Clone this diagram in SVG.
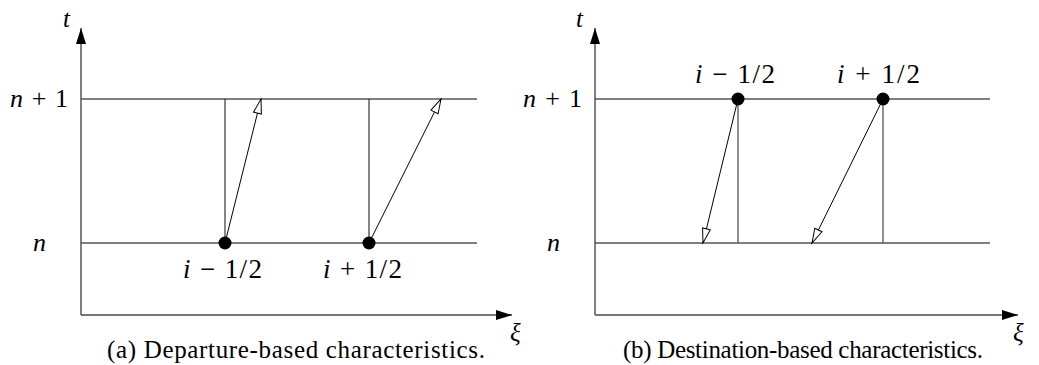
<svg xmlns="http://www.w3.org/2000/svg" width="1039" height="365" viewBox="0 0 1039 365" font-family="Liberation Serif, Times New Roman, serif">
<style>
.ax{stroke:#4a4a4a;stroke-width:1.4;fill:none}
.grid{stroke:#555;stroke-width:1.3;fill:none}
.vt{stroke:#222;stroke-width:1.1;fill:none}
.ch{stroke:#000;stroke-width:1;fill:none;marker-end:url(#open)}
</style>
<defs>
<marker id="solid" markerUnits="userSpaceOnUse" markerWidth="20" markerHeight="12" refX="16" refY="5" orient="auto" overflow="visible">
<path d="M0,0 L16,5 L0,10 Z" fill="#000"/>
</marker>
<marker id="open" markerUnits="userSpaceOnUse" markerWidth="20" markerHeight="12" refX="15" refY="4.5" orient="auto" overflow="visible">
<path d="M0.5,0.5 L15,4.5 L0.5,8.5 Z" fill="#fff" stroke="#000" stroke-width="1"/>
</marker>
</defs>

<g id="panel-a">
<g id="axes-a">
<line class="ax" x1="81" y1="315" x2="81" y2="28" marker-end="url(#solid)"/>
<line class="ax" x1="81" y1="315" x2="512" y2="315" marker-end="url(#solid)"/>
<text font-family="Liberation Serif, serif" font-size="25" font-style="italic" x="63" y="27">t</text>
<text font-family="Liberation Serif, serif" font-size="25" font-style="italic" x="510" y="341">ξ</text>
</g>
<g id="level-a-n1">
<line class="grid" x1="81" y1="99" x2="477" y2="99"/>
<text font-family="Liberation Serif, serif" font-size="26" x="10" y="107" textLength="58" lengthAdjust="spacing"><tspan font-style="italic">n</tspan> + 1</text>
</g>
<g id="level-a-n">
<line class="grid" x1="81" y1="243" x2="477" y2="243"/>
<text font-family="Liberation Serif, serif" font-size="26" font-style="italic" x="33" y="251">n</text>
</g>
<g id="connectors-a">
<line class="vt" x1="225" y1="243" x2="225" y2="99"/>
<line class="vt" x1="369" y1="243" x2="369" y2="99"/>
<line class="ch" x1="225" y1="243" x2="261" y2="99"/>
<line class="ch" x1="369" y1="243" x2="441" y2="99"/>
</g>
<g id="node-a-im">
<circle cx="225" cy="243" r="6.5" fill="#000"/>
<text font-family="Liberation Serif, serif" font-size="27" x="183" y="278" textLength="79" lengthAdjust="spacing"><tspan font-style="italic">i</tspan> − 1/2</text>
</g>
<g id="node-a-ip">
<circle cx="369" cy="243" r="6.5" fill="#000"/>
<text font-family="Liberation Serif, serif" font-size="27" x="323" y="278" textLength="79" lengthAdjust="spacing"><tspan font-style="italic">i</tspan> + 1/2</text>
</g>
<text font-family="Liberation Serif, serif" font-size="25" x="107" y="358" textLength="378" lengthAdjust="spacing">(a)  Departure-based characteristics.</text>
</g>

<g id="panel-b">
<g id="axes-b">
<line class="ax" x1="595" y1="315" x2="595" y2="28" marker-end="url(#solid)"/>
<line class="ax" x1="595" y1="315" x2="1018" y2="315" marker-end="url(#solid)"/>
<text font-family="Liberation Serif, serif" font-size="25" font-style="italic" x="576" y="27">t</text>
<text font-family="Liberation Serif, serif" font-size="25" font-style="italic" x="1013" y="341">ξ</text>
</g>
<g id="level-b-n1">
<line class="grid" x1="595" y1="99" x2="990" y2="99"/>
<text font-family="Liberation Serif, serif" font-size="26" x="523" y="107" textLength="59" lengthAdjust="spacing"><tspan font-style="italic">n</tspan> + 1</text>
</g>
<g id="level-b-n">
<line class="grid" x1="595" y1="243" x2="990" y2="243"/>
<text font-family="Liberation Serif, serif" font-size="26" font-style="italic" x="547" y="251">n</text>
</g>
<g id="connectors-b">
<line class="grid" x1="738" y1="99" x2="738" y2="243"/>
<line class="grid" x1="883" y1="99" x2="883" y2="243"/>
<line class="ch" x1="738" y1="99" x2="703" y2="243"/>
<line class="ch" x1="883" y1="99" x2="812" y2="243"/>
</g>
<g id="node-b-im">
<circle cx="738" cy="99" r="6.5" fill="#000"/>
<text font-family="Liberation Serif, serif" font-size="27" x="695" y="83" textLength="80" lengthAdjust="spacing"><tspan font-style="italic">i</tspan> − 1/2</text>
</g>
<g id="node-b-ip">
<circle cx="883" cy="99" r="6.5" fill="#000"/>
<text font-family="Liberation Serif, serif" font-size="27" x="837" y="83" textLength="83" lengthAdjust="spacing"><tspan font-style="italic">i</tspan> + 1/2</text>
</g>
<text font-family="Liberation Serif, serif" font-size="25" x="623" y="358" textLength="360" lengthAdjust="spacing">(b)  Destination-based characteristics.</text>
</g>
</svg>
